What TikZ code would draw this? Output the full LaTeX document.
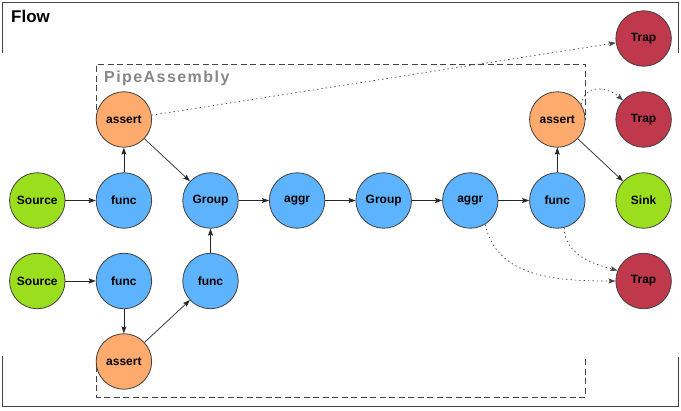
\documentclass[tikz,border=0pt]{standalone}
\usepackage{fontspec}
\setmainfont{Liberation Sans}
\usetikzlibrary{arrows.meta}
\definecolor{cgreen}{RGB}{155,222,30}
\definecolor{cblue}{RGB}{94,179,255}
\definecolor{corange}{RGB}{255,171,110}
\definecolor{cred}{RGB}{191,56,76}
\definecolor{cframe}{RGB}{68,68,68}
\begin{document}
\begin{tikzpicture}[x=1pt,y=-1pt,
  proc/.style={circle, draw=black!75, line width=0.8pt, minimum size=55.5pt, inner sep=0pt,
    font=\fontsize{12}{14}\selectfont\bfseries},
  srcnode/.style={proc, fill=cgreen},
  fnnode/.style={proc, fill=cblue},
  asnode/.style={proc, fill=corange},
  trapnode/.style={proc, fill=cred},
  conn/.style={draw=black!85, line width=0.7pt, -{Stealth[length=7pt,width=5pt,inset=1.2pt]}},
  dconn/.style={conn, draw=black!72, dash pattern=on 1.4pt off 3pt},
  framel/.style={draw=cframe, line width=1.3pt},
  dframe/.style={draw=cframe, line width=0.9pt, dash pattern=on 6pt off 3.5pt},
]
\useasboundingbox (0,0) rectangle (681,411);
% frames
\draw[framel] (2.7,53) -- (2.7,2.7) -- (678.3,2.7) -- (678.3,53);
\draw[framel] (2.7,356) -- (2.7,406.5) -- (678.3,406.5) -- (678.3,357);
\node[anchor=base west, inner sep=0pt, font=\fontsize{17}{19}\selectfont\bfseries] (flowlbl) at (11,22.5) {Flow};
\draw[dframe] (96.8,120) -- (96.8,64.3) -- (585.5,64.3) -- (585.5,120);
\draw[dframe] (96.8,357) -- (96.8,397) -- (585.5,397) -- (585.5,357);
\node[anchor=base west, inner sep=0pt, text=black!47, font=\fontsize{16}{18}\selectfont\bfseries\addfontfeature{LetterSpace=9}] (pipelbl) at (104,82.3) {PipeAssembly};
% nodes
\node[srcnode] (src1) at (37.3,200.5) {Source};
\node[fnnode] (fn1) at (123.9,200.5) {func};
\node[fnnode] (grp1) at (210.5,200.5) {Group};
\node[fnnode] (agg1) at (297.1,200.5) {aggr};
\node[fnnode] (grp2) at (383.7,200.5) {Group};
\node[fnnode] (agg2) at (470.3,200.5) {aggr};
\node[fnnode] (fn4) at (557.3,200.5) {func};
\node[srcnode] (sink) at (643.6,200.5) {Sink};
\node[asnode] (as1) at (123.9,119.5) {assert};
\node[asnode] (as3) at (557.3,119.5) {assert};
\node[trapnode] (trap1) at (643.6,38.5) {Trap};
\node[trapnode] (trap2) at (643.6,119.5) {Trap};
\node[trapnode] (trap3) at (643.6,281) {Trap};
\node[srcnode] (src2) at (37.3,281) {Source};
\node[fnnode] (fn2) at (123.9,281) {func};
\node[fnnode] (fn3) at (210.5,281) {func};
\node[asnode] (as2) at (123.9,361.5) {assert};
% connectors
\draw[conn] (src1) -- (fn1);
\draw[conn] (fn1) -- (as1);
\draw[conn] (as1) -- (grp1);
\draw[conn] (grp1) -- (agg1);
\draw[conn] (agg1) -- (grp2);
\draw[conn] (grp2) -- (agg2);
\draw[conn] (agg2) -- (fn4);
\draw[conn] (fn4) -- (as3);
\draw[conn] (as3) -- (sink);
\draw[conn] (src2) -- (fn2);
\draw[conn] (fn2) -- (as2);
\draw[conn] (as2) -- (fn3);
\draw[conn] (fn3) -- (grp1);
\draw[dconn] (as1) -- (trap1);
\draw[dconn] (as3.32) to[out=80,in=140,looseness=1.3] (trap2.137);
\draw[dconn] (agg2.-58) to[out=-78,in=180] (trap3.west);
\draw[dconn] (fn4.-76) to[out=-88,in=165] (trap3.158);
\end{tikzpicture}
\end{document}
